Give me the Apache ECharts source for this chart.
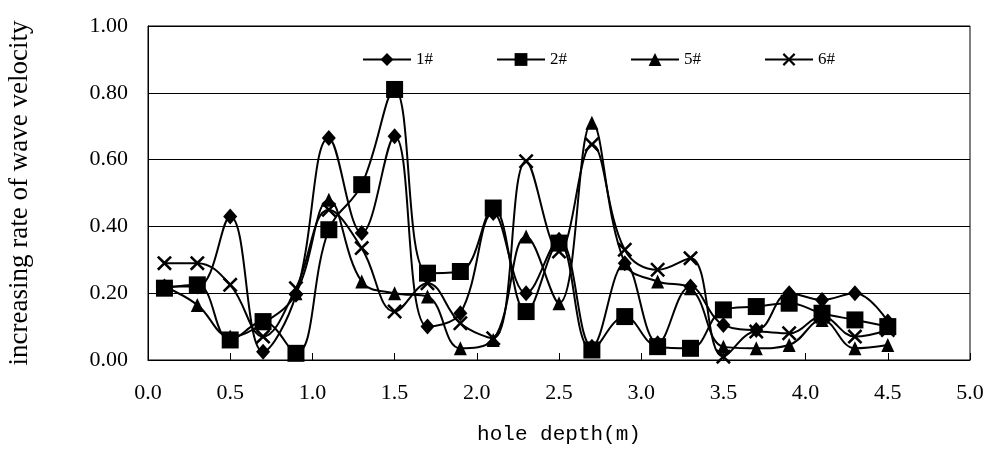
<!DOCTYPE html>
<html>
<head>
<meta charset="utf-8">
<script src="https://cdn.jsdelivr.net/npm/echarts@6/dist/echarts.min.js"></script>
<style>
  html, body { margin: 0; padding: 0; background: #fff; }
  #chart { width: 985px; height: 452px; }
</style>
</head>
<body>
<div id="chart"></div>
<script>
const depth = [0.1, 0.3, 0.5, 0.7, 0.9, 1.1, 1.3, 1.5, 1.7, 1.9, 2.1, 2.3, 2.5, 2.7, 2.9, 3.1, 3.3, 3.5, 3.7, 3.9, 4.1, 4.3, 4.5];
const hole1 = [0.22, 0.22, 0.43, 0.025, 0.195, 0.665, 0.38, 0.67, 0.10, 0.14, 0.44, 0.20, 0.36, 0.04, 0.29, 0.05, 0.22, 0.105, 0.09, 0.20, 0.18, 0.20, 0.115];
const hole2 = [0.215, 0.225, 0.06, 0.115, 0.02, 0.39, 0.525, 0.81, 0.26, 0.265, 0.455, 0.145, 0.35, 0.03, 0.13, 0.04, 0.035, 0.15, 0.16, 0.17, 0.14, 0.12, 0.10];
const hole5 = [0.22, 0.165, 0.07, 0.11, 0.20, 0.48, 0.235, 0.20, 0.19, 0.035, 0.06, 0.37, 0.17, 0.71, 0.29, 0.235, 0.215, 0.04, 0.035, 0.045, 0.12, 0.035, 0.045];
const hole6 = [0.29, 0.29, 0.225, 0.07, 0.215, 0.45, 0.335, 0.145, 0.23, 0.11, 0.065, 0.595, 0.325, 0.645, 0.33, 0.27, 0.305, 0.01, 0.085, 0.08, 0.13, 0.07, 0.09];

const names = ['1#', '2#', '5#', '6#'];

const serif = '"Liberation Serif", "Times New Roman", serif';
const crossPath = 'path://M0,1.2L1.2,0L5,3.8L8.8,0L10,1.2L6.2,5L10,8.8L8.8,10L5,6.2L1.2,10L0,8.8L3.8,5Z';

function pairs(vals) {
    return depth.map((d, i) => [d, vals[i]]);
}

function makeSeries(name, vals, symbol, size) {
    return {
        name: name,
        type: 'line',
        data: pairs(vals),
        smooth: 0.4,
        symbol: symbol,
        symbolSize: size,
        showAllSymbol: true,
        color: '#000',
        lineStyle: { color: '#000', width: 2 },
        itemStyle: { color: '#000' },
        emphasis: { disabled: true },
        animation: false
    };
}

const myChart = echarts.init(document.getElementById('chart'));

const option = {
    backgroundColor: '#fff',
    animation: false,
    grid: {
        left: 148,
        right: 15,
        top: 26,
        bottom: 92,
        show: true,
        borderColor: '#000',
        borderWidth: 1,
        containLabel: false,
        outerBoundsMode: 'none'
    },
    legend: {
        left: 357,
        top: 46,
        itemWidth: 48,
        itemHeight: 16,
        itemGap: 63,
        textStyle: { fontFamily: serif, fontSize: 17, color: '#000', padding: [0, 0, 0, 0] },
        data: names
    },
    xAxis: {
        type: 'value',
        min: 0,
        max: 5,
        interval: 0.5,
        name: 'hole depth(m)',
        nameLocation: 'middle',
        nameGap: 64,
        nameTextStyle: { fontFamily: '"Liberation Mono", monospace', fontSize: 21, color: '#000' },
        axisLine: { lineStyle: { color: '#000', width: 1 } },
        axisTick: { inside: true, length: 7, lineStyle: { color: '#000' } },
        axisLabel: {
            margin: 22,
            fontFamily: serif,
            fontSize: 22,
            color: '#000',
            formatter: v => v.toFixed(1)
        },
        splitLine: { show: false }
    },
    yAxis: {
        type: 'value',
        min: 0,
        max: 1,
        interval: 0.2,
        name: 'increasing rate of wave velocity',
        nameLocation: 'middle',
        nameGap: 115,
        nameTextStyle: { fontFamily: serif, fontSize: 27, color: '#000' },
        axisLine: { show: true, lineStyle: { color: '#000', width: 1 } },
        axisTick: { show: false },
        axisLabel: {
            margin: 20,
            fontFamily: serif,
            fontSize: 22,
            color: '#000',
            formatter: v => v.toFixed(2)
        },
        splitLine: { show: true, lineStyle: { color: '#000', width: 1 } }
    },
    series: [
        makeSeries(names[0], hole1, 'diamond', [14, 16]),
        makeSeries(names[1], hole2, 'rect', 17),
        makeSeries(names[2], hole5, 'triangle', [13, 14]),
        makeSeries(names[3], hole6, crossPath, 15)
    ]
};

myChart.setOption(option);
</script>
</body>
</html>
